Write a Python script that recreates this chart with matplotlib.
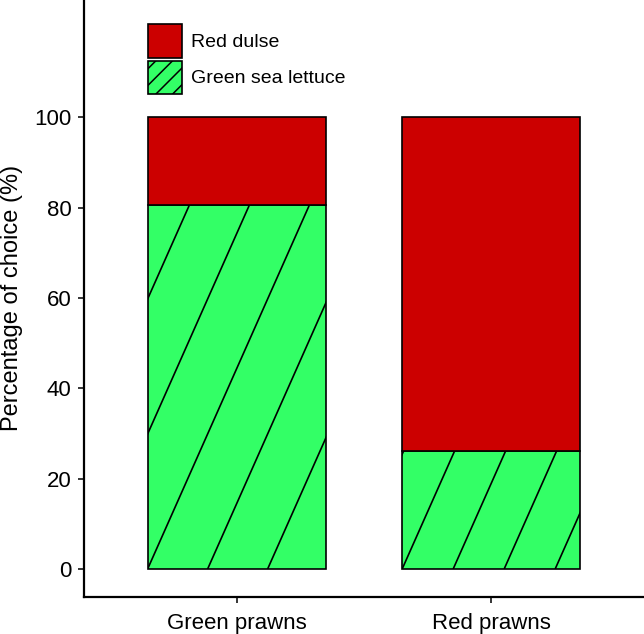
import numpy as np
import matplotlib
matplotlib.use("Agg")
import matplotlib.pyplot as plt
from matplotlib.patches import Patch

plt.rcParams["font.family"] = ["Liberation Sans", "DejaVu Sans"]
plt.rcParams["hatch.linewidth"] = 1.1

# data
groups = ["Green prawns", "Red prawns"]
green_lettuce = [80.5, 26.2]
red_dulse = [19.5, 73.8]
series_labels = ["Red dulse", "Green sea lettuce"]
y_ticks = [0, 20, 40, 60, 80, 100]

RED = "#CC0000"
GREEN = "#33FF66"
HATCH_SLOPE = 2.25          # rise/run of hatch lines, in pixels
HATCH_GAP = [60, 51]        # horizontal spacing of hatch lines per bar, px


def hatch_bar(ax, patch, gap_px, slope=HATCH_SLOPE):
    """Draw steep R-style hatch lines inside a bar, clipped to it."""
    x0, y0 = ax.transData.transform((patch.get_x(), patch.get_y()))
    x1, y1 = ax.transData.transform((patch.get_x() + patch.get_width(),
                                     patch.get_y() + patch.get_height()))
    h = y1 - y0
    run = h / slope
    inv = ax.transData.inverted()
    n_back = int(np.ceil(run / gap_px)) + 1
    n_fwd = int(np.ceil((x1 - x0) / gap_px)) + 1
    for k in range(-n_back, n_fwd):
        xs = x0 + k * gap_px
        pts = inv.transform([(xs, y0), (xs + run, y1)])
        line, = ax.plot(pts[:, 0], pts[:, 1], color="black", lw=1.2,
                        solid_capstyle="butt")
        line.set_clip_path(patch)


fig = plt.figure(figsize=(6.44, 6.34), dpi=100)
ax = fig.add_axes([84 / 644, 37.5 / 634, 560 / 644, 596.5 / 634])
ax.set_xlim(-0.6, 1.6)
ax.set_ylim(-6.1, 126.0)

x = np.arange(len(groups))
g_bars = ax.bar(x, green_lettuce, width=0.7, color=GREEN,
                edgecolor="black", linewidth=1.2)
r_bars = ax.bar(x, red_dulse, width=0.7, bottom=green_lettuce, color=RED,
                edgecolor="black", linewidth=1.2)

for bar, gap in zip(g_bars, HATCH_GAP):
    hatch_bar(ax, bar, gap)

ax.spines["top"].set_visible(False)
ax.spines["right"].set_visible(False)
ax.spines["left"].set_linewidth(1.6)
ax.spines["bottom"].set_linewidth(1.6)

ax.set_yticks(y_ticks)
ax.set_xticks(x)
ax.set_xticklabels(groups)
ax.tick_params(axis="both", length=4, width=1.1, labelsize=16, color="black")
ax.tick_params(axis="x", pad=8)
ax.tick_params(axis="y", pad=5)

ax.set_ylabel("Percentage of choice (%)", fontsize=17)
ax.yaxis.set_label_coords(-0.109, 0.5)

handles = [
    Patch(facecolor=RED, edgecolor="black", linewidth=1.2),
    Patch(facecolor=GREEN, edgecolor="black", linewidth=1.2, hatch="//"),
]
ax.legend(handles, series_labels, loc="upper left",
          bbox_to_anchor=(148.3 / 644, 1 - 24.3 / 634),
          bbox_transform=fig.transFigure, frameon=False, fontsize=14,
          borderpad=0, borderaxespad=0, handlelength=1.72,
          handleheight=2.27, handletextpad=0.48, labelspacing=0.15)

fig.savefig("out.png", dpi=100)
